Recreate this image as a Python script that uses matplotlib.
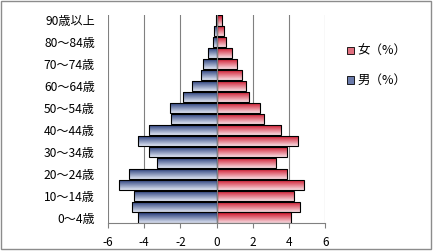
import numpy as np
import matplotlib
matplotlib.use("Agg")
import matplotlib.pyplot as plt
from matplotlib.patches import Rectangle, Patch
from matplotlib.colors import to_rgb

plt.rcParams['font.family'] = ['Noto Sans CJK JP', 'DejaVu Sans']

categories = ['0～4歳', '5～9歳', '10～14歳', '15～19歳', '20～24歳', '25～29歳',
              '30～34歳', '35～39歳', '40～44歳', '45～49歳', '50～54歳', '55～59歳',
              '60～64歳', '65～69歳', '70～74歳', '75～79歳', '80～84歳', '85～89歳',
              '90歳以上']
male = [-4.37, -4.69, -4.55, -5.38, -4.82, -3.31, -3.75, -4.33, -3.75, -2.52,
        -2.58, -1.84, -1.36, -0.85, -0.73, -0.47, -0.21, -0.12, -0.05]
female = [4.11, 4.58, 4.25, 4.80, 3.88, 3.29, 3.88, 4.52, 3.55, 2.60,
          2.37, 1.77, 1.63, 1.40, 1.12, 0.84, 0.53, 0.40, 0.29]
female_label = '女（%）'
male_label = '男（%）'
xticks = [-6, -4, -2, 0, 2, 4, 6]

W, H = 433, 252
fig = plt.figure(figsize=(W / 100, H / 100), dpi=100)
left, right, bottom, top = 108, 325.3, 223, 15
ax = fig.add_axes([left / W, 1 - bottom / H, (right - left) / W, (bottom - top) / H])

y = np.arange(len(categories))
bh = 0.92
mb = ax.barh(y, male, height=bh, facecolor='none', edgecolor='black', linewidth=0.8, zorder=3)
fb = ax.barh(y, female, height=bh, facecolor='none', edgecolor='black', linewidth=0.8, zorder=3)


def grad(c1, c2, n=64):
    a = np.array(to_rgb(c1)); b = np.array(to_rgb(c2))
    t = np.linspace(0, 1, n)[:, None]
    return (a * (1 - t) + b * t)[:, None, :]

gblue = grad('#1c3273', '#dfe5f3')
gred = grad('#cc0a22', '#f8dde2')

for bars, g in ((mb, gblue), (fb, gred)):
    for p in bars.patches:
        x0, y0 = p.get_x(), p.get_y()
        w, h = p.get_width(), p.get_height()
        xa, xb = min(x0, x0 + w), max(x0, x0 + w)
        im = ax.imshow(g, extent=[xa, xb, y0, y0 + h], origin='upper',
                       aspect='auto', zorder=2, interpolation='bilinear')
        im.set_clip_path(p)

ax.set_xlim(-6, 6)
ax.set_ylim(-0.5, len(categories) - 0.5)
ax.set_xticks(xticks)
ax.set_xticklabels([str(v) for v in xticks], fontsize=8.5)
ax.set_yticks(y[::2])
ax.set_yticklabels(categories[::2], fontsize=8.7)
ax.tick_params(axis='y', length=0, pad=9.4)
ax.tick_params(axis='x', length=3.5, width=0.8, color='#808080', pad=5.5)
for s in ('left', 'top', 'right'):
    ax.spines[s].set_visible(False)
ax.spines['bottom'].set_color('#808080')
ax.spines['bottom'].set_linewidth(0.8)
ax.set_axisbelow(True)
ax.grid(axis='x', color='#808080', linewidth=0.8, zorder=0)
ax.axvline(0, color='#808080', linewidth=0.8, zorder=4)

handles = [Patch(facecolor='#e0707f', edgecolor='black', linewidth=0.6),
           Patch(facecolor='#6b7bab', edgecolor='black', linewidth=0.6)]
fig.legend(handles, [female_label, male_label], loc='upper left',
           bbox_to_anchor=(347 / W, 1 - 45 / H), frameon=False, fontsize=9,
           handlelength=0.55, handleheight=0.55, handletextpad=0.3,
           labelspacing=1.3, borderpad=0, borderaxespad=0)

fig.patches.append(Rectangle((0.5 / W, 1 - 249 / H), 430.5 / W, 248.5 / H,
                             transform=fig.transFigure, fill=False,
                             edgecolor='#8c8c8c', linewidth=1.0))

fig.savefig('out.png', dpi=100)
